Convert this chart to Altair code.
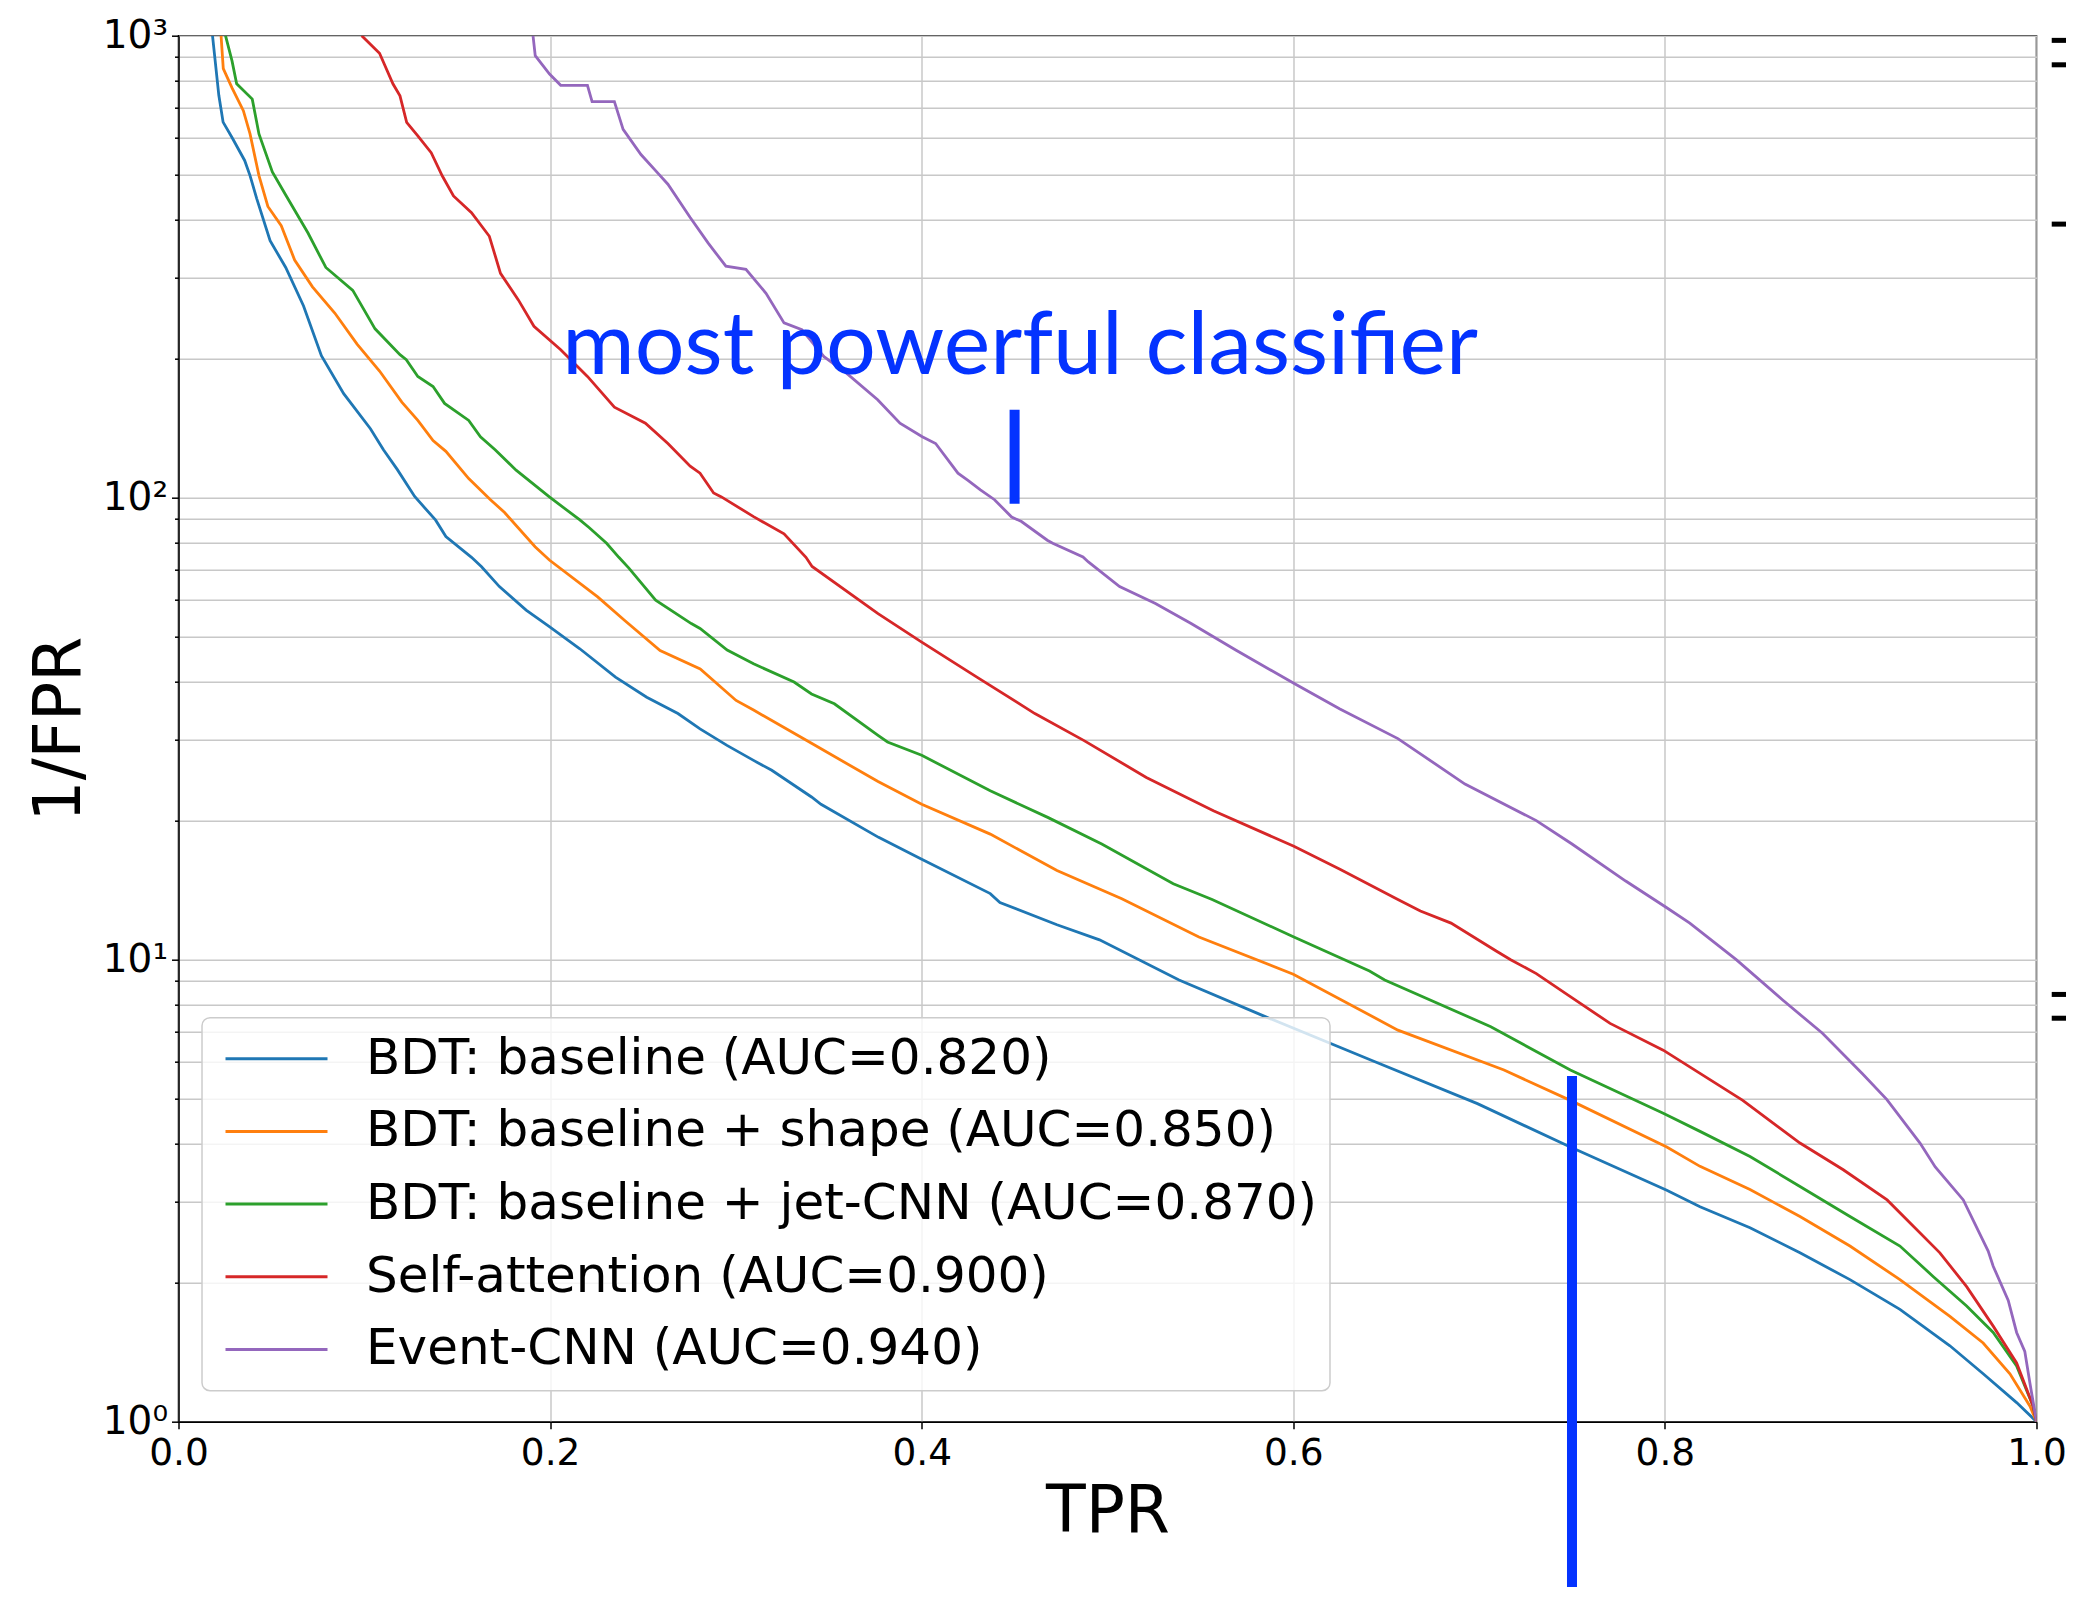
import altair as alt
import pandas as pd

series_names = [
    "BDT: baseline (AUC=0.820)",
    "BDT: baseline + shape (AUC=0.850)",
    "BDT: baseline + jet-CNN (AUC=0.870)",
    "Self-attention (AUC=0.900)",
    "Event-CNN (AUC=0.940)",
]
series_colors = ["#1f77b4", "#ff7f0e", "#2ca02c", "#d62728", "#9467bd"]

blue_tpr = [0.0183, 0.0217, 0.024, 0.0288, 0.0356, 0.0385, 0.0421, 0.0493, 0.0577, 0.0673,
            0.0769, 0.0889, 0.1033, 0.1103, 0.1178, 0.1271, 0.1384, 0.1439, 0.1577, 0.1631,
            0.1727, 0.1871, 0.1996, 0.216, 0.2352, 0.252, 0.2688, 0.2807, 0.2952, 0.3095,
            0.3193, 0.3407, 0.3458, 0.3768, 0.4, 0.4369, 0.4421, 0.4728, 0.4957, 0.5385,
            0.5849, 0.642, 0.6991, 0.7491, 0.801, 0.8189, 0.8458, 0.8727, 0.8996, 0.9265,
            0.9534, 0.9713, 0.9893, 1.0]
blue_inv_fpr = [1000, 743, 650, 602, 537, 498, 444, 360, 315, 260,
                203, 168, 141, 127, 115, 100.6, 89.4, 82.4, 74.3, 70.9,
                64.2, 57.1, 52.6, 47.1, 40.9, 37.0, 34.1, 31.6, 29.1, 27.0,
                25.7, 22.5, 21.7, 18.4, 16.5, 13.9, 13.3, 11.9, 11.04, 9.04,
                7.53, 6.06, 4.88, 3.93, 3.17, 2.92, 2.63, 2.32, 2.03, 1.75,
                1.46, 1.27, 1.10, 1.0]

orange_tpr = [0.0229, 0.0241, 0.0288, 0.0349, 0.0385, 0.0433, 0.0481, 0.0553, 0.0625, 0.0721,
              0.0841, 0.0961, 0.1082, 0.1202, 0.1288, 0.137, 0.1439, 0.1562, 0.1679, 0.1755,
              0.1919, 0.1996, 0.2256, 0.24, 0.2592, 0.2808, 0.3001, 0.3095, 0.3407, 0.3765,
              0.4, 0.4369, 0.4728, 0.5077, 0.5492, 0.6, 0.6563, 0.7134, 0.7491, 0.801,
              0.8189, 0.8458, 0.8727, 0.8996, 0.9265, 0.9534, 0.9713, 0.9857, 0.9965, 1.0]
orange_inv_fpr = [1000, 849, 771, 688, 613, 498, 427, 388, 327, 286,
                  251, 215, 188, 161, 147, 133, 126, 110, 99, 92.9,
                  78.3, 73.3, 61, 54.3, 46.7, 42.6, 36.4, 34.7, 29.4, 24.3,
                  21.7, 18.7, 15.6, 13.55, 11.2, 9.3, 7.04, 5.77, 4.96, 3.93,
                  3.57, 3.18, 2.78, 2.40, 2.03, 1.69, 1.48, 1.27, 1.08, 1.0]

green_tpr = [0.0253, 0.0288, 0.0313, 0.0397, 0.0433, 0.0505, 0.0577, 0.0697, 0.0793, 0.0938,
             0.1058, 0.1192, 0.1226, 0.1288, 0.137, 0.1432, 0.1562, 0.1625, 0.1704, 0.1817,
             0.1996, 0.216, 0.2211, 0.2304, 0.237, 0.2424, 0.2568, 0.276, 0.2807, 0.2953,
             0.3095, 0.3313, 0.3407, 0.353, 0.3765, 0.3816, 0.4, 0.4369, 0.4681, 0.4969,
             0.5354, 0.5563, 0.6003, 0.641, 0.6492, 0.7063, 0.7491, 0.7991, 0.8189, 0.8458,
             0.8727, 0.8996, 0.9265, 0.9445, 0.9624, 0.9767, 0.9893, 0.9982, 1.0]
green_inv_fpr = [1000, 882, 787, 729, 613, 507, 452, 374, 315, 281,
                 232, 204, 199, 183, 174, 160, 147, 135.5, 127, 114.7,
                 100.4, 89.5, 86.1, 79.7, 74.3, 70.4, 60, 53.4, 52.1, 46.8,
                 43.7, 39.9, 37.6, 35.8, 30.6, 29.6, 27.7, 23.2, 20.3, 17.8,
                 14.6, 13.5, 11.2, 9.45, 9.04, 7.16, 5.77, 4.65, 4.25, 3.75,
                 3.23, 2.78, 2.40, 2.06, 1.78, 1.56, 1.32, 1.08, 1.0]

red_tpr = [0.0986, 0.1082, 0.1154, 0.1192, 0.1228, 0.1288, 0.136, 0.142, 0.148, 0.1577,
           0.1673, 0.1733, 0.1829, 0.1913, 0.2057, 0.2201, 0.2346, 0.2513, 0.2634, 0.2754,
           0.2807, 0.288, 0.2922, 0.3095, 0.3259, 0.3377, 0.341, 0.3765, 0.4, 0.4297,
           0.4609, 0.4874, 0.5209, 0.557, 0.6003, 0.6251, 0.6563, 0.6684, 0.6849, 0.7092,
           0.717, 0.7308, 0.7491, 0.7705, 0.7991, 0.8419, 0.8727, 0.896, 0.9196, 0.948,
           0.9624, 0.9767, 0.9893, 0.9982, 1.0]
red_inv_fpr = [1000, 916, 787, 741, 649, 607, 558, 497, 450, 414,
               368, 306, 268, 235, 209, 183, 157, 145, 131, 117,
               113, 102.4, 100.4, 91, 83.5, 74.3, 71, 56.1, 48.7, 40.9,
               34.1, 29.8, 24.8, 21, 17.6, 15.7, 13.5, 12.75, 12, 10.44,
               10, 9.33, 8.32, 7.28, 6.37, 4.96, 4.01, 3.51, 3.02, 2.32,
               1.96, 1.61, 1.34, 1.08, 1.0]

purple_tpr = [0.1908, 0.192, 0.1997, 0.2057, 0.2201, 0.2226, 0.2346, 0.2393, 0.2489, 0.2586,
              0.2634, 0.2754, 0.285, 0.2946, 0.3054, 0.3162, 0.3259, 0.3355, 0.3474, 0.3595,
              0.3763, 0.3883, 0.4003, 0.4075, 0.4195, 0.4249, 0.4316, 0.4392, 0.4484, 0.4537,
              0.4676, 0.4705, 0.4868, 0.4897, 0.5065, 0.5258, 0.545, 0.569, 0.6005, 0.6251,
              0.6563, 0.6924, 0.7308, 0.75, 0.7789, 0.8008, 0.8134, 0.8384, 0.8634, 0.8848,
              0.9062, 0.9195, 0.9373, 0.9455, 0.9606, 0.974, 0.9767, 0.9848, 0.9893, 0.9937,
              0.9965, 1.0]
purple_inv_fpr = [1000, 905, 826, 781, 781, 720, 720, 627, 553, 501,
                  477, 404, 356, 317, 312, 277, 239, 231, 202, 186,
                  163, 145, 135.5, 131, 113, 109, 104, 99, 90.8, 88.8,
                  80.9, 79.7, 74.4, 72.6, 64.2, 59, 53.4, 46.8, 39.6, 34.9,
                  30.1, 24, 20, 17.8, 14.8, 12.97, 12, 10, 8.18, 6.93,
                  5.67, 4.98, 4.01, 3.56, 3.02, 2.34, 2.17, 1.83, 1.56, 1.42,
                  1.21, 1.0]

x_ticks = [0.0, 0.2, 0.4, 0.6, 0.8, 1.0]
y_ticks = [1, 2, 3, 4, 5, 6, 7, 8, 9,
           10, 20, 30, 40, 50, 60, 70, 80, 90,
           100, 200, 300, 400, 500, 600, 700, 800, 900, 1000]

# annotations (slide overlays)
note_text = ["most powerful classifier"]
note_tpr = [0.453]
note_inv_fpr = [185]
bar_tpr = [0.45, 0.75]
bar_top = [155, 5.6]
bar_bottom = [97, 0.4]
edge_tpr_start = [1.0082, 1.0082, 1.0082, 1.0082, 1.0082]
edge_tpr_end = [1.0202, 1.0202, 1.0202, 1.0202, 1.0202]
edge_inv_fpr = [977, 865, 391, 8.41, 7.47]

rows = []
for name, xs, ys in zip(series_names,
                        [blue_tpr, orange_tpr, green_tpr, red_tpr, purple_tpr],
                        [blue_inv_fpr, orange_inv_fpr, green_inv_fpr, red_inv_fpr, purple_inv_fpr]):
    for i, (a, b) in enumerate(zip(xs, ys)):
        rows.append({"model": name, "tpr": a, "inv_fpr": b, "idx": i})
curves = pd.DataFrame(rows)

notes = pd.DataFrame({"text": note_text, "tpr": note_tpr, "inv_fpr": note_inv_fpr})
bars = pd.DataFrame({"tpr": bar_tpr, "inv_fpr": bar_top, "inv_fpr2": bar_bottom})
edges = pd.DataFrame({"tpr": edge_tpr_start, "tpr2": edge_tpr_end, "inv_fpr": edge_inv_fpr})

FONT = "DejaVu Sans"
xscale = alt.Scale(domain=[0, 1], nice=False, zero=False)
yscale = alt.Scale(type="log", domain=[1, 1000], nice=False)

x_axis = alt.Axis(
    values=x_ticks, format=".1f", title="TPR", grid=True,
    labelFont=FONT, labelFontSize=37.5, labelColor="black", labelFlush=False,
    labelPadding=6, tickSize=7, tickWidth=1.5, tickColor="black",
    domainColor="black", domainWidth=1.5,
    titleFont=FONT, titleFontSize=65, titleFontWeight="normal", titleColor="black",
    titlePadding=8,
)
y_axis = alt.Axis(
    values=y_ticks, title="1/FPR", grid=True, labelOverlap=False, labelFlush=False,
    labelExpr="datum.value == 1 ? '10⁰' : datum.value == 10 ? '10¹' : datum.value == 100 ? '10²' : datum.value == 1000 ? '10³' : ''",
    labelFont=FONT, labelFontSize=39, labelColor="black", labelPadding=4,
    tickSize={"condition": {"test": "datum.value == 1 || datum.value == 10 || datum.value == 100 || datum.value == 1000", "value": 7}, "value": 4},
    tickWidth=1.5, tickColor="black", domainColor="black", domainWidth=1.5,
    titleFont=FONT, titleFontSize=65, titleFontWeight="normal", titleColor="black",
    titlePadding=9,
)

lines = alt.Chart(curves).mark_line(strokeWidth=2.8, clip=True).encode(
    x=alt.X("tpr:Q", scale=xscale, axis=x_axis),
    y=alt.Y("inv_fpr:Q", scale=yscale, axis=y_axis),
    color=alt.Color(
        "model:N",
        scale=alt.Scale(domain=series_names, range=series_colors),
        legend=alt.Legend(
            orient="none", legendX=23.5, legendY=982, title=None,
            labelFont=FONT, labelFontSize=50, labelColor="black", labelLimit=3000,
            symbolType="stroke", symbolSize=10404, symbolStrokeWidth=3, symbolOpacity=1,
            symbolOffset=10, labelOffset=37, padding=12, clipHeight=58, rowPadding=14.7,
            fillColor="rgba(255,255,255,0.8)", strokeColor="#cccccc", cornerRadius=8,
        ),
    ),
    order="idx:Q",
)

text = alt.Chart(notes).mark_text(
    font="Lato", fontSize=88, color="#0433ff", align="center", baseline="alphabetic"
).encode(
    x=alt.X("tpr:Q", scale=xscale),
    y=alt.Y("inv_fpr:Q", scale=yscale),
    text="text:N",
)

bar_rules = alt.Chart(bars).mark_rule(color="#0433ff", strokeWidth=10, clip=False).encode(
    x=alt.X("tpr:Q", scale=xscale),
    y=alt.Y("inv_fpr:Q", scale=yscale),
    y2="inv_fpr2:Q",
)

edge_rules = alt.Chart(edges).mark_rule(color="black", strokeWidth=5, clip=False).encode(
    x=alt.X("tpr:Q", scale=xscale),
    x2="tpr2:Q",
    y=alt.Y("inv_fpr:Q", scale=yscale),
)

chart = alt.layer(lines, text, bar_rules, edge_rules).properties(
    width=1858, height=1386,
    padding={"left": 170.5, "top": 27.7, "right": 29, "bottom": 165},
    autosize=alt.AutoSizeParams(type="none"),
).configure_view(
    stroke="black", strokeWidth=1.5
).configure_axis(
    gridColor="#c8c8c8", gridWidth=1.5, gridOpacity=1
).configure_legend(
    strokeWidth=1.5
)

chart.save("out.html", embed_options={"renderer": "svg", "actions": False})
